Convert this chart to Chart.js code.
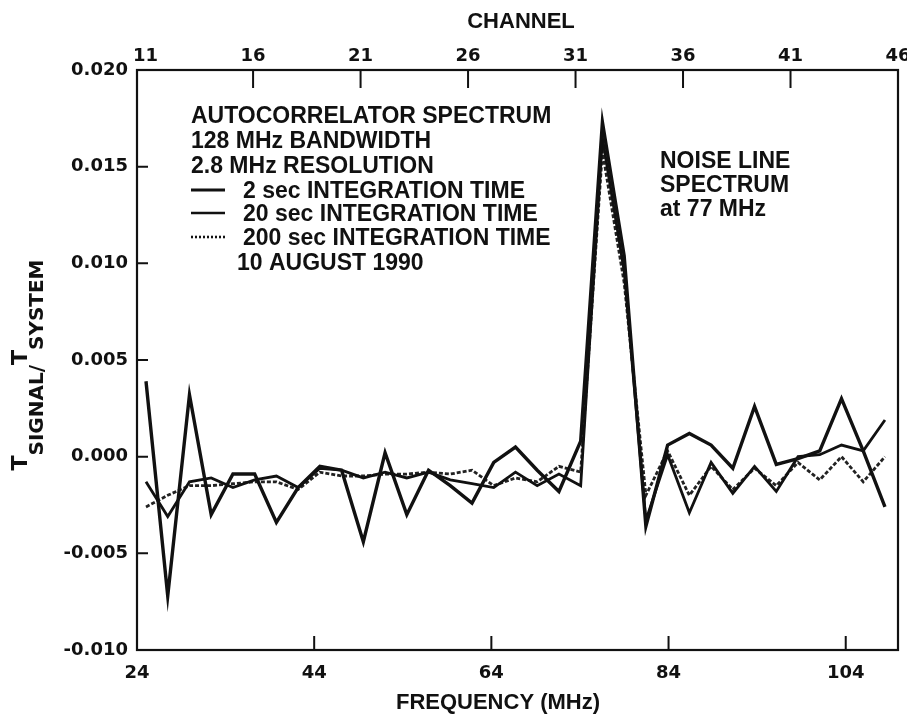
<!DOCTYPE html>
<html>
<head>
<meta charset="utf-8">
<script src="https://cdn.jsdelivr.net/npm/chart.js@4.4.1/dist/chart.umd.min.js"></script>
<style>
  html, body { margin: 0; padding: 0; background: #fff; }
  canvas { display: block; }
</style>
</head>
<body>
<canvas id="spectrum" width="907" height="715"></canvas>
<script>
// ── Datos ─────────────
const channels = [11, 12, 13, 14, 15, 16, 17, 18, 19, 20, 21, 22, 23, 24, 25, 26, 27, 28,
                  29, 30, 31, 32, 33, 34, 35, 36, 37, 38, 39, 40, 41, 42, 43, 44, 45];
const sec2   = [0.0039, -0.0072, 0.0032, -0.0030, -0.0009, -0.0009, -0.0034, -0.0016, -0.0005,
                -0.0007, -0.0044, 0.0002, -0.0030, -0.0007, -0.0015, -0.0024, -0.0003, 0.0005,
                -0.0007, -0.0018, 0.0008, 0.0173, 0.0104, -0.0036, 0.0006, 0.0012, 0.0006,
                -0.0006, 0.0026, -0.0004, -0.0001, 0.0003, 0.0030, 0.0003, -0.0026];
const sec20  = [-0.0013, -0.0031, -0.0013, -0.0011, -0.0016, -0.0012, -0.0010, -0.0016, -0.0006,
                -0.0007, -0.0011, -0.0008, -0.0011, -0.0008, -0.0012, -0.0014, -0.0016, -0.0008,
                -0.0015, -0.0009, -0.0015, 0.0165, 0.0096, -0.0033, 0.0001, -0.0029, -0.0003,
                -0.0019, -0.0005, -0.0018, 0.0000, 0.0001, 0.0006, 0.0003, 0.0019];
const sec200 = [-0.0026, -0.0020, -0.0015, -0.0015, -0.0014, -0.0013, -0.0013, -0.0017, -0.0008,
                -0.0010, -0.0010, -0.0009, -0.0009, -0.0008, -0.0009, -0.0007, -0.0015, -0.0011,
                -0.0013, -0.0005, -0.0008, 0.0158, 0.0090, -0.0020, 0.0003, -0.0020, -0.0005,
                -0.0017, -0.0006, -0.0015, -0.0003, -0.0012, 0.0000, -0.0013, 0.0000];
const channelTicks = [11, 16, 21, 26, 31, 36, 41, 46];
const freqTicks    = [24, 44, 64, 84, 104];
const yTicks       = [-0.010, -0.005, 0.000, 0.005, 0.010, 0.015, 0.020];

const infoLines  = ['AUTOCORRELATOR SPECTRUM', '128 MHz BANDWIDTH', '2.8 MHz RESOLUTION'];
const legendText = ['2 sec INTEGRATION TIME', '20 sec INTEGRATION TIME', '200 sec INTEGRATION TIME'];
const dateLine   = '10 AUGUST 1990';
const noiseLines = ['NOISE LINE', 'SPECTRUM', 'at 77 MHz'];

const TICKFONT = '"DejaVu Sans", sans-serif';
const TEXTFONT = '"Liberation Sans", Arial, sans-serif';
const INK = '#111';

function pts(values) {
    return channels.map((c, i) => ({ x: c, y: values[i] }));
}
function fixTicks(list) {
    return function (scale) { scale.ticks = list.map(v => ({ value: v })); };
}
function fixSize(prop, size) {
    return function (scale) {
        scale[prop] = size;
        scale.paddingLeft = 0; scale.paddingRight = 0;
        scale.paddingTop = 0; scale.paddingBottom = 0;
    };
}

// ── Marco, marcas interiores y textos ─────────────
const decoraciones = {
    id: 'decoraciones',
    afterDatasetsDraw(chart) {
        const { ctx, chartArea: a, scales } = chart;
        ctx.save();
        ctx.strokeStyle = INK;
        ctx.lineWidth = 2.2;
        ctx.strokeRect(a.left, a.top, a.right - a.left, a.bottom - a.top);

        ctx.lineWidth = 2;
        ctx.beginPath();
        channelTicks.slice(1, -1).forEach(v => {
            const x = scales.chan.getPixelForValue(v);
            ctx.moveTo(x, a.top); ctx.lineTo(x, a.top + 18);
        });
        freqTicks.slice(1).forEach(v => {
            const x = scales.freq.getPixelForValue(v);
            ctx.moveTo(x, a.bottom); ctx.lineTo(x, a.bottom - 14);
        });
        yTicks.slice(1, -1).forEach(v => {
            const y = scales.y.getPixelForValue(v);
            ctx.moveTo(a.left, y); ctx.lineTo(a.left + 11, y);
        });
        ctx.stroke();

        // títulos de ejes
        ctx.fillStyle = INK;
        ctx.textAlign = 'center';
        ctx.textBaseline = 'alphabetic';
        ctx.font = 'bold 22px ' + TEXTFONT;
        ctx.fillText('CHANNEL', 521, 28);
        ctx.fillText('FREQUENCY (MHz)', 498, 709);

        // texto
        ctx.textAlign = 'left';
        ctx.font = 'bold 23px ' + TEXTFONT;
        const cy = [115, 140, 165, 190, 213, 237, 262];
        infoLines.forEach((t, i) => ctx.fillText(t, 191, cy[i] + 8));
        legendText.forEach((t, i) => ctx.fillText(t, 243, cy[i + 3] + 8));
        ctx.fillText(dateLine, 237, cy[6] + 8);
        [160, 184, 208].forEach((y, i) => ctx.fillText(noiseLines[i], 660, y + 8));

        // muestras de leyenda
        const estilos = [
            { w: 3, dash: [] },
            { w: 2.6, dash: [] },
            { w: 2.6, dash: [2, 2] }
        ];
        estilos.forEach((s, i) => {
            ctx.beginPath();
            ctx.lineWidth = s.w;
            ctx.setLineDash(s.dash);
            ctx.moveTo(191, cy[i + 3]); ctx.lineTo(225, cy[i + 3]);
            ctx.stroke();
        });
        ctx.setLineDash([]);

        // título eje Y con subíndices
        const piezas = [
            { t: 'T', f: 'bold 22px ' + TICKFONT, b: 27 },
            { t: 'SIGNAL/', f: 'bold 20px ' + TICKFONT, b: 43 },
            { t: 'T', f: 'bold 22px ' + TICKFONT, b: 27 },
            { t: 'SYSTEM', f: 'bold 20px ' + TICKFONT, b: 43 }
        ];
        let total = 0;
        piezas.forEach(p => { ctx.font = p.f; p.w = ctx.measureText(p.t).width; total += p.w; });
        ctx.rotate(-Math.PI / 2);
        let u = -(365 + total / 2);
        piezas.forEach(p => {
            ctx.font = p.f;
            ctx.fillText(p.t, u, p.b);
            u += p.w;
        });
        ctx.restore();
    }
};

// ── Gráfico ─────────────
new Chart(document.getElementById('spectrum'), {
    type: 'line',
    data: {
        datasets: [
            { label: '2 sec', data: pts(sec2), borderColor: INK, borderWidth: 3.4,
              borderJoinStyle: 'miter' },
            { label: '20 sec', data: pts(sec20), borderColor: INK, borderWidth: 2.8,
              borderJoinStyle: 'miter' },
            { label: '200 sec', data: pts(sec200), borderColor: '#222', borderWidth: 2.8,
              borderDash: [4, 2], borderJoinStyle: 'miter' }
        ]
    },
    options: {
        responsive: false,
        animation: false,
        events: [],
        layout: { padding: { left: 0, right: 9, top: 0, bottom: 0 } },
        elements: { point: { radius: 0 }, line: { tension: 0, fill: false } },
        plugins: { legend: { display: false }, tooltip: { enabled: false } },
        scales: {
            x: { type: 'linear', display: false, min: 10.586, max: 45.6 },
            chan: {
                type: 'linear', axis: 'x', position: 'top', min: 10.6, max: 46,
                afterBuildTicks: fixTicks(channelTicks),
                afterFit: fixSize('height', 70),
                grid: { display: false }, border: { display: false },
                ticks: { autoSkip: false, maxRotation: 0, padding: -5, color: INK,
                         font: { family: TICKFONT, size: 18, weight: 'bold' } }
            },
            freq: {
                type: 'linear', axis: 'x', position: 'bottom', min: 24, max: 109.9,
                afterBuildTicks: fixTicks(freqTicks),
                afterFit: fixSize('height', 65),
                grid: { display: false }, border: { display: false },
                ticks: { autoSkip: false, maxRotation: 0, padding: 5, color: INK,
                         font: { family: TICKFONT, size: 18, weight: 'bold' } }
            },
            y: {
                type: 'linear', min: -0.010, max: 0.020,
                afterBuildTicks: fixTicks(yTicks),
                afterFit: fixSize('width', 137),
                grid: { display: false }, border: { display: false },
                ticks: { autoSkip: false, padding: 1, color: INK,
                         font: { family: TICKFONT, size: 18, weight: 'bold' },
                         callback: v => v.toFixed(3) }
            }
        }
    },
    plugins: [decoraciones]
});
</script>
</body>
</html>
